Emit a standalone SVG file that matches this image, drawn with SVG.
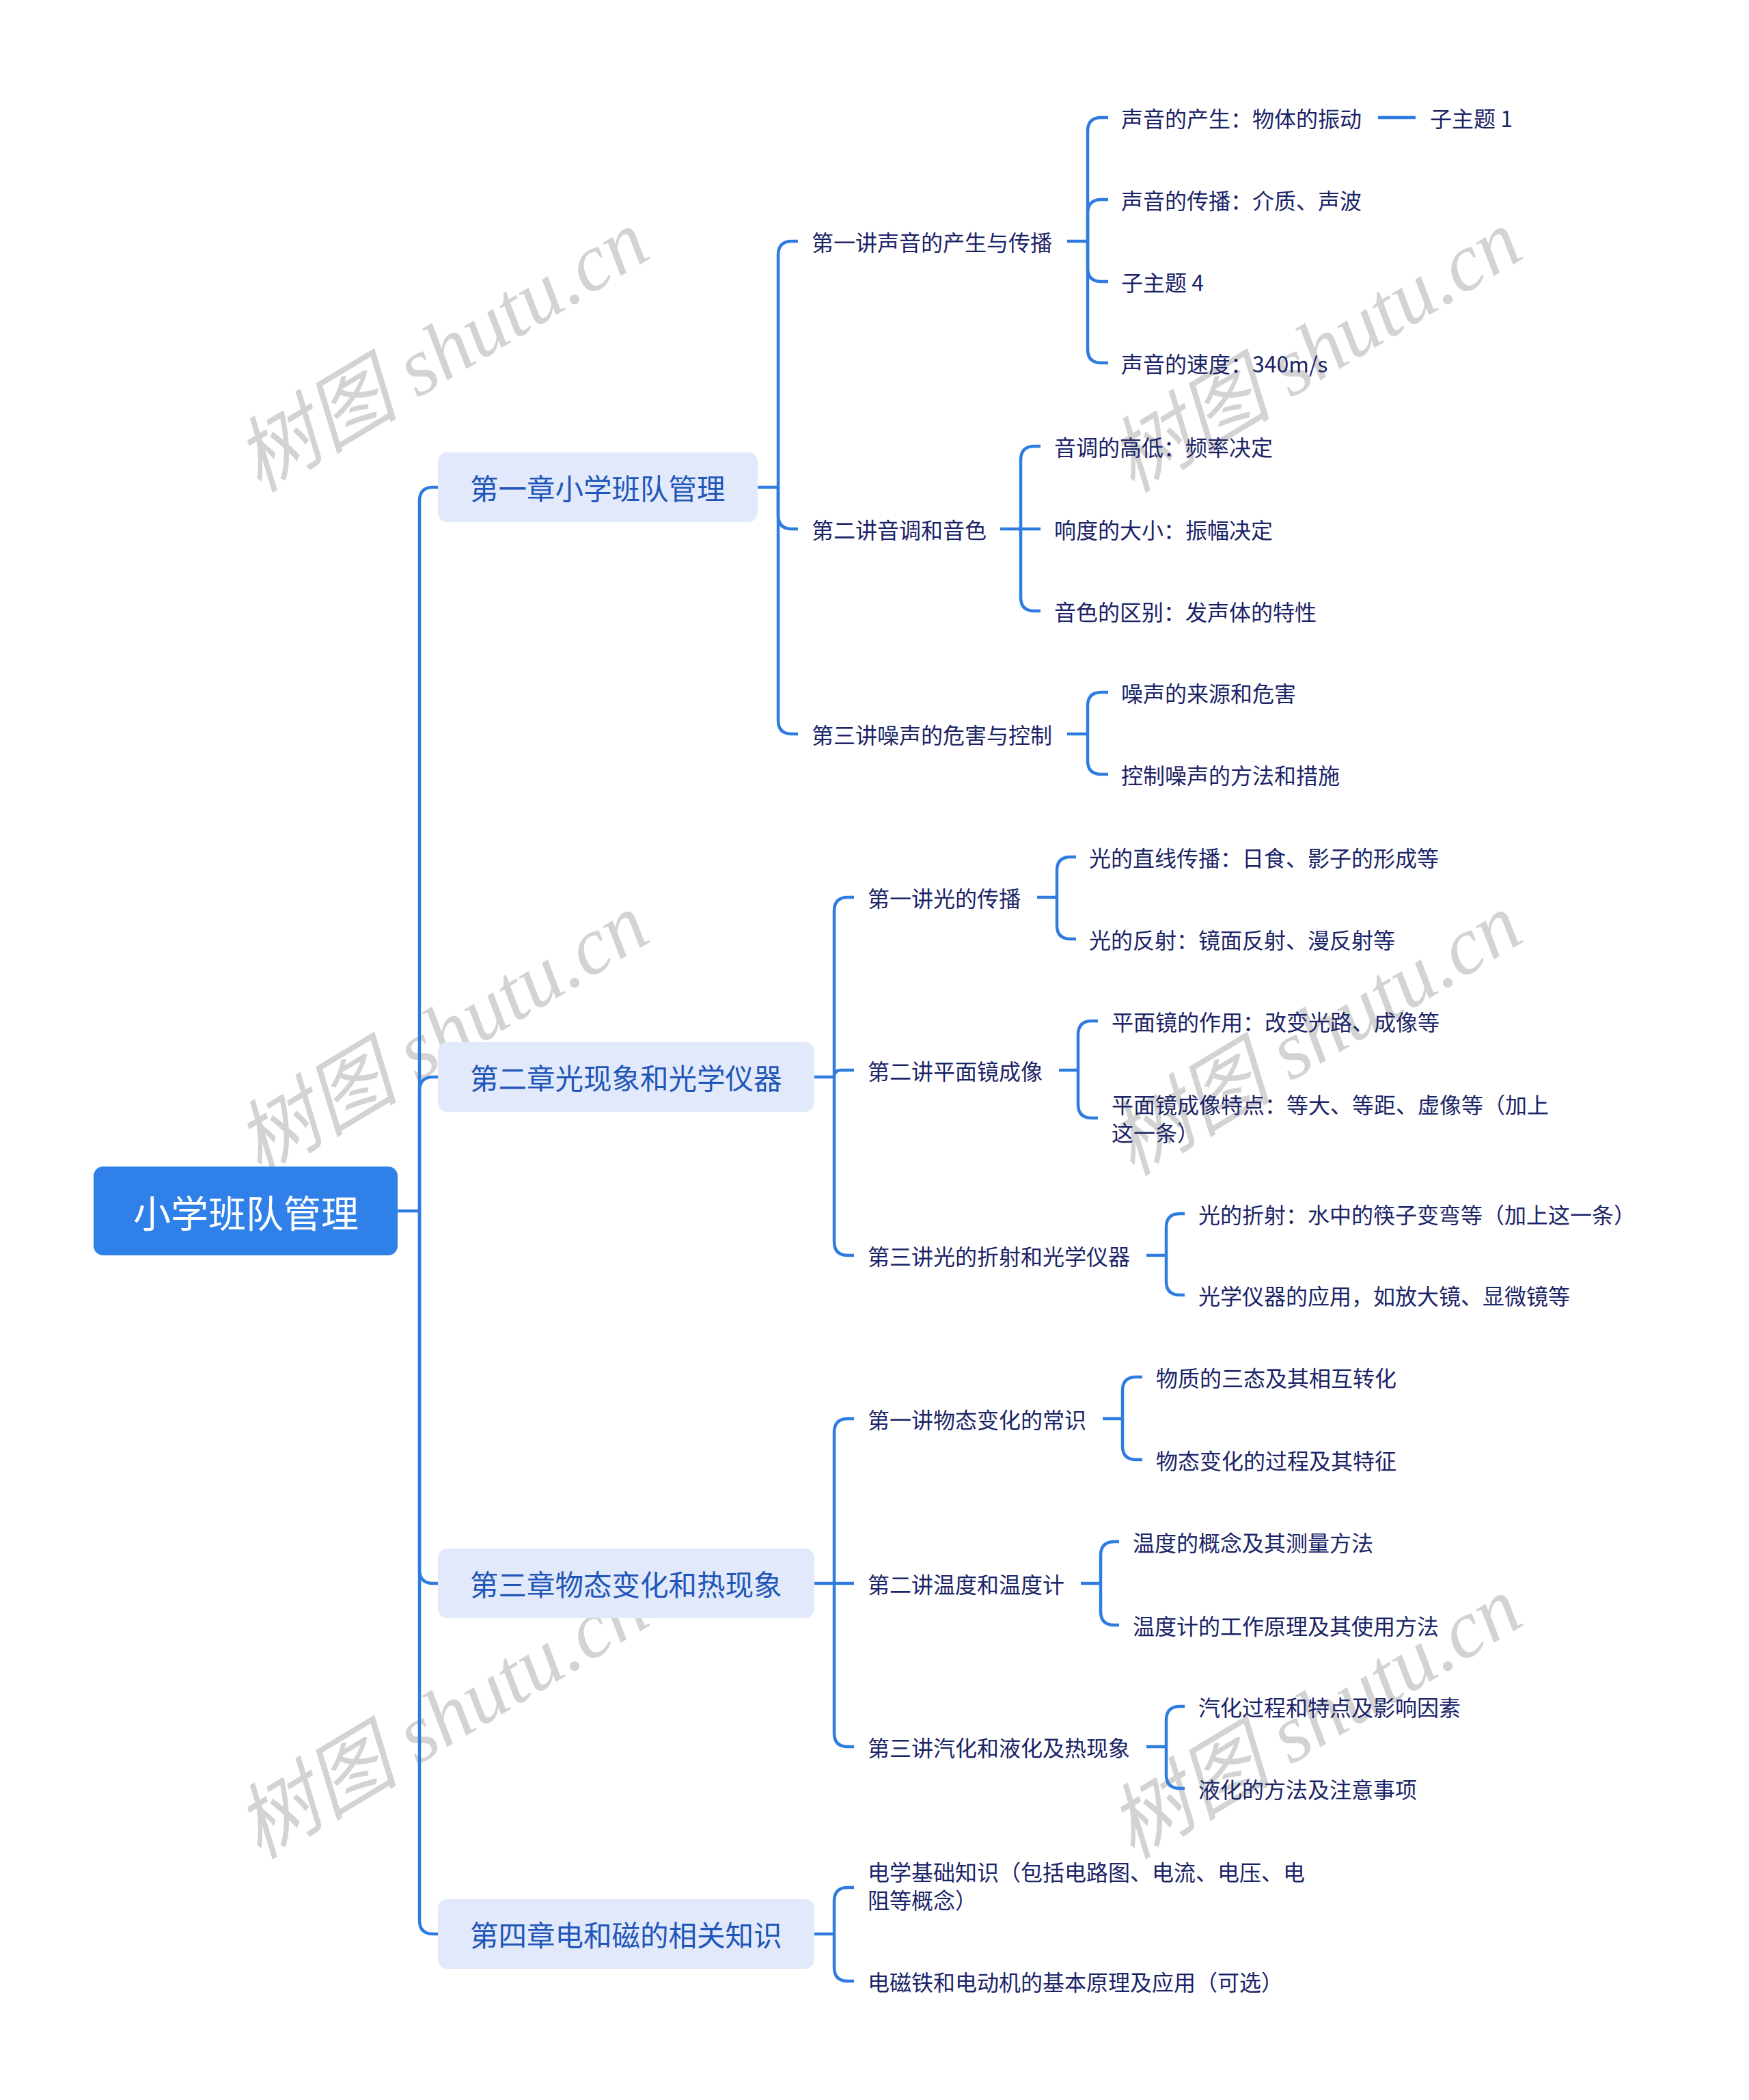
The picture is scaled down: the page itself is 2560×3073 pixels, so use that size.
<svg xmlns="http://www.w3.org/2000/svg" width="2560" height="3073" viewBox="0 0 2560 3073">
<style>
.wm{font-family:"Liberation Serif","Noto Sans CJK SC",serif;font-style:italic;font-size:120px;fill:#d3d3d3;text-anchor:middle;dominant-baseline:central}
.t{font-family:"Noto Sans CJK SC","Noto Sans",sans-serif;font-size:32px;fill:#1b2467;dominant-baseline:central}
.ch{font-family:"Noto Sans CJK SC","Noto Sans",sans-serif;font-size:41.5px;fill:#1f56b8;dominant-baseline:central}
.rt{font-family:"Noto Sans CJK SC","Noto Sans",sans-serif;font-size:55px;fill:#ffffff;dominant-baseline:central;text-anchor:middle}
.chbox{fill:#e1e9fb}
.rootbox{fill:#2f80e8}
.ln{fill:none;stroke:#2f7ce0;stroke-width:4.5;stroke-linecap:butt}
</style>
<rect width="2560" height="3073" fill="#ffffff"/>
<g id="watermarks">
<text class="wm" x="647" y="514" transform="rotate(-31 647 514)">树图 shutu.cn</text>
<text class="wm" x="1925" y="514" transform="rotate(-31 1925 514)">树图 shutu.cn</text>
<text class="wm" x="647" y="1514" transform="rotate(-31 647 1514)">树图 shutu.cn</text>
<text class="wm" x="1925" y="1514" transform="rotate(-31 1925 1514)">树图 shutu.cn</text>
<text class="wm" x="647" y="2514" transform="rotate(-31 647 2514)">树图 shutu.cn</text>
<text class="wm" x="1925" y="2514" transform="rotate(-31 1925 2514)">树图 shutu.cn</text>
</g>
<g id="connectors" class="ln">
<!-- root -->
<path d="M582,1772 H614"/>
<path d="M614,1772 V733 Q614,713 634,713 H641"/>
<path d="M614,1772 V1596 Q614,1576 634,1576 H641"/>
<path d="M614,1772 V2297 Q614,2317 634,2317 H641"/>
<path d="M614,1772 V2810 Q614,2830 634,2830 H641"/>
<!-- ch1 -->
<path d="M1109,713 H1139"/>
<path d="M1139,713 V373 Q1139,353 1159,353 H1168"/>
<path d="M1139,713 V754 Q1139,774 1159,774 H1168"/>
<path d="M1139,713 V1054 Q1139,1074 1159,1074 H1168"/>
<!-- ch1 l1 -->
<path d="M1562,353 H1592"/>
<path d="M1592,353 V192 Q1592,172 1612,172 H1622"/>
<path d="M1592,353 V312 Q1592,292 1612,292 H1622"/>
<path d="M1592,353 V392 Q1592,412 1612,412 H1622"/>
<path d="M1592,353 V511 Q1592,531 1612,531 H1622"/>
<path d="M2017,172 H2072"/>
<!-- ch1 l2 -->
<path d="M1464,774 H1494"/>
<path d="M1494,774 V673 Q1494,653 1514,653 H1523"/>
<path d="M1494,774 H1523"/>
<path d="M1494,774 V874 Q1494,894 1514,894 H1523"/>
<!-- ch1 l3 -->
<path d="M1562,1074 H1592"/>
<path d="M1592,1074 V1033 Q1592,1013 1612,1013 H1622"/>
<path d="M1592,1074 V1113 Q1592,1133 1612,1133 H1622"/>
<!-- ch2 -->
<path d="M1192,1576 H1221"/>
<path d="M1221,1576 V1333 Q1221,1313 1241,1313 H1250"/>
<path d="M1221,1576 V1576 Q1221,1566 1231,1566 H1250"/>
<path d="M1221,1576 V1817 Q1221,1837 1241,1837 H1250"/>
<!-- ch2 l1 -->
<path d="M1518,1313 H1547"/>
<path d="M1547,1313 V1274 Q1547,1254 1567,1254 H1575"/>
<path d="M1547,1313 V1354 Q1547,1374 1567,1374 H1575"/>
<!-- ch2 l2 -->
<path d="M1550,1566 H1578"/>
<path d="M1578,1566 V1514 Q1578,1494 1598,1494 H1607"/>
<path d="M1578,1566 V1616 Q1578,1636 1598,1636 H1607"/>
<!-- ch2 l3 -->
<path d="M1678,1837 H1707"/>
<path d="M1707,1837 V1796 Q1707,1776 1727,1776 H1734"/>
<path d="M1707,1837 V1875 Q1707,1895 1727,1895 H1734"/>
<!-- ch3 -->
<path d="M1192,2317 H1221"/>
<path d="M1221,2317 V2096 Q1221,2076 1241,2076 H1250"/>
<path d="M1221,2317 H1250"/>
<path d="M1221,2317 V2536 Q1221,2556 1241,2556 H1250"/>
<!-- ch3 l1 -->
<path d="M1614,2076 H1643"/>
<path d="M1643,2076 V2035 Q1643,2015 1663,2015 H1672"/>
<path d="M1643,2076 V2116 Q1643,2136 1663,2136 H1672"/>
<!-- ch3 l2 -->
<path d="M1582,2317 H1611"/>
<path d="M1611,2317 V2276 Q1611,2256 1631,2256 H1638"/>
<path d="M1611,2317 V2358 Q1611,2378 1631,2378 H1638"/>
<!-- ch3 l3 -->
<path d="M1678,2556 H1707"/>
<path d="M1707,2556 V2517 Q1707,2497 1727,2497 H1734"/>
<path d="M1707,2556 V2597 Q1707,2617 1727,2617 H1734"/>
<!-- ch4 -->
<path d="M1192,2830 H1221"/>
<path d="M1221,2830 V2782 Q1221,2762 1241,2762 H1250"/>
<path d="M1221,2830 V2879 Q1221,2899 1241,2899 H1250"/>
</g>
<g id="root">
<rect class="rootbox" x="137" y="1707" width="445" height="130" rx="14"/>
<text class="rt" x="360" y="1772">小学班队管理</text>
</g>
<g id="ch1">
<rect class="chbox" x="641" y="662" width="468" height="102" rx="14"/>
<text class="ch" x="688" y="713">第一章小学班队管理</text>
</g>
<g id="ch2">
<rect class="chbox" x="641" y="1525" width="551" height="102" rx="14"/>
<text class="ch" x="688" y="1576">第二章光现象和光学仪器</text>
</g>
<g id="ch3">
<rect class="chbox" x="641" y="2266" width="551" height="102" rx="14"/>
<text class="ch" x="688" y="2317">第三章物态变化和热现象</text>
</g>
<g id="ch4">
<rect class="chbox" x="641" y="2779" width="551" height="102" rx="14"/>
<text class="ch" x="688" y="2830">第四章电和磁的相关知识</text>
</g>
<g id="ch1-1"><text class="t" x="1188" y="353">第一讲声音的产生与传播</text></g>
<g id="ch1-1-1"><text class="t" x="1641" y="172">声音的产生：物体的振动</text></g>
<g id="ch1-1-1-1"><text class="t" x="2093" y="172">子主题 1</text></g>
<g id="ch1-1-2"><text class="t" x="1641" y="292">声音的传播：介质、声波</text></g>
<g id="ch1-1-3"><text class="t" x="1641" y="412">子主题 4</text></g>
<g id="ch1-1-4"><text class="t" x="1641" y="531">声音的速度：340m/s</text></g>
<g id="ch1-2"><text class="t" x="1188" y="774">第二讲音调和音色</text></g>
<g id="ch1-2-1"><text class="t" x="1543" y="653">音调的高低：频率决定</text></g>
<g id="ch1-2-2"><text class="t" x="1543" y="774">响度的大小：振幅决定</text></g>
<g id="ch1-2-3"><text class="t" x="1543" y="894">音色的区别：发声体的特性</text></g>
<g id="ch1-3"><text class="t" x="1188" y="1074">第三讲噪声的危害与控制</text></g>
<g id="ch1-3-1"><text class="t" x="1641" y="1013">噪声的来源和危害</text></g>
<g id="ch1-3-2"><text class="t" x="1641" y="1133">控制噪声的方法和措施</text></g>
<g id="ch2-1"><text class="t" x="1270" y="1313">第一讲光的传播</text></g>
<g id="ch2-1-1"><text class="t" x="1594" y="1254">光的直线传播：日食、影子的形成等</text></g>
<g id="ch2-1-2"><text class="t" x="1594" y="1374">光的反射：镜面反射、漫反射等</text></g>
<g id="ch2-2"><text class="t" x="1270" y="1566">第二讲平面镜成像</text></g>
<g id="ch2-2-1"><text class="t" x="1627" y="1494">平面镜的作用：改变光路、成像等</text></g>
<g id="ch2-2-2"><text class="t" x="1627" y="1615">平面镜成像特点：等大、等距、虚像等（加上</text><text class="t" x="1627" y="1656">这一条）</text></g>
<g id="ch2-3"><text class="t" x="1270" y="1837">第三讲光的折射和光学仪器</text></g>
<g id="ch2-3-1"><text class="t" x="1754" y="1776">光的折射：水中的筷子变弯等（加上这一条）</text></g>
<g id="ch2-3-2"><text class="t" x="1754" y="1895">光学仪器的应用，如放大镜、显微镜等</text></g>
<g id="ch3-1"><text class="t" x="1270" y="2076">第一讲物态变化的常识</text></g>
<g id="ch3-1-1"><text class="t" x="1692" y="2015">物质的三态及其相互转化</text></g>
<g id="ch3-1-2"><text class="t" x="1692" y="2136">物态变化的过程及其特征</text></g>
<g id="ch3-2"><text class="t" x="1270" y="2317">第二讲温度和温度计</text></g>
<g id="ch3-2-1"><text class="t" x="1658" y="2256">温度的概念及其测量方法</text></g>
<g id="ch3-2-2"><text class="t" x="1658" y="2378">温度计的工作原理及其使用方法</text></g>
<g id="ch3-3"><text class="t" x="1270" y="2556">第三讲汽化和液化及热现象</text></g>
<g id="ch3-3-1"><text class="t" x="1754" y="2497">汽化过程和特点及影响因素</text></g>
<g id="ch3-3-2"><text class="t" x="1754" y="2617">液化的方法及注意事项</text></g>
<g id="ch4-1"><text class="t" x="1270" y="2738">电学基础知识（包括电路图、电流、电压、电</text><text class="t" x="1270" y="2779">阻等概念）</text></g>
<g id="ch4-2"><text class="t" x="1270" y="2899">电磁铁和电动机的基本原理及应用（可选）</text></g>
</svg>
